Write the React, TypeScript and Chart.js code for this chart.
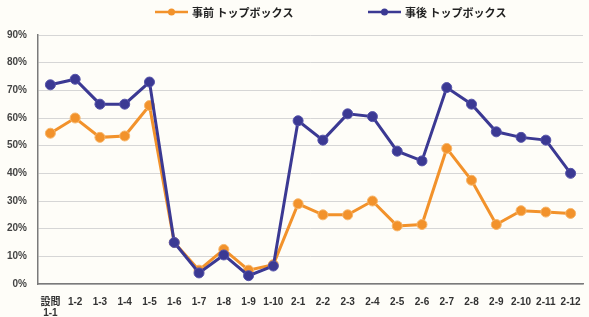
import React, { useEffect, useRef } from "react";
import { Chart, registerables } from "chart.js";

Chart.register(...registerables);

const categories: (string | string[])[] = [
  ["設問", "1-1"], "1-2", "1-3", "1-4", "1-5", "1-6", "1-7", "1-8", "1-9", "1-10",
  "2-1", "2-2", "2-3", "2-4", "2-5", "2-6", "2-7", "2-8", "2-9", "2-10", "2-11", "2-12",
];

const beforeLabel = "事前 トップボックス";
const afterLabel = "事後 トップボックス";

const beforeValues = [
  54.5, 60, 53, 53.5, 64.5, 15, 5, 12.5, 5, 7,
  29, 25, 25, 30, 21, 21.5, 49, 37.5, 21.5, 26.5, 26, 25.5,
];
const afterValues = [
  72, 74, 65, 65, 73, 15, 4, 10.5, 3, 6.5,
  59, 52, 61.5, 60.5, 48, 44.5, 71, 65, 55, 53, 52, 40,
];

const yTicks = [0, 10, 20, 30, 40, 50, 60, 70, 80, 90];

const ORANGE = "#F2922B";
const BLUE = "#3B3993";

const bgPlugin = {
  id: "bg",
  beforeDraw(chart: any) {
    const ctx = chart.ctx;
    ctx.save();
    ctx.fillStyle = "#fefdf8";
    ctx.fillRect(0, 0, chart.width, chart.height);
    ctx.restore();
  },
};

const legendPlugin = {
  id: "customLegend",
  afterDraw(chart: any) {
    const ctx = chart.ctx;
    const items = [
      { x: 155, ds: chart.data.datasets[0] },
      { x: 368, ds: chart.data.datasets[1] },
    ];
    const y = 12;
    ctx.save();
    items.forEach(({ x, ds }) => {
      ctx.strokeStyle = ds.borderColor;
      ctx.lineWidth = 2.5;
      ctx.beginPath();
      ctx.moveTo(x, y);
      ctx.lineTo(x + 33, y);
      ctx.stroke();
      ctx.fillStyle = ds.borderColor;
      ctx.beginPath();
      ctx.arc(x + 16.5, y, 3.5, 0, Math.PI * 2);
      ctx.fill();
      ctx.fillStyle = "#222";
      ctx.font = "bold 11px 'Noto Sans CJK JP'";
      ctx.textBaseline = "middle";
      ctx.textAlign = "left";
      ctx.fillText(ds.label, x + 37, y + 1);
    });
    ctx.restore();
  },
};

export default function App() {
  const ref = useRef<HTMLCanvasElement | null>(null);
  useEffect(() => {
    document.body.style.margin = "0";
    const chart = new Chart(ref.current!, {
      type: "line",
      data: {
        labels: categories,
        datasets: [
          {
            label: beforeLabel,
            data: beforeValues,
            borderColor: ORANGE,
            backgroundColor: ORANGE,
            pointBackgroundColor: ORANGE,
            pointBorderColor: "#F7B66A",
            pointBorderWidth: 1,
            borderWidth: 3,
            pointRadius: 5,
            tension: 0,
            order: 1,
          },
          {
            label: afterLabel,
            data: afterValues,
            borderColor: BLUE,
            backgroundColor: BLUE,
            pointBackgroundColor: BLUE,
            pointBorderColor: "#5553AA",
            pointBorderWidth: 1,
            borderWidth: 3,
            pointRadius: 5,
            tension: 0,
            order: 0,
          },
        ],
      },
      options: {
        animation: false,
        responsive: true,
        maintainAspectRatio: false,
        layout: { padding: { top: 35, left: 0, right: 0, bottom: 0 } },
        plugins: {
          legend: { display: false },
          tooltip: { enabled: false },
        },
        scales: {
          x: {
            offset: true,
            grid: { display: false },
            border: { color: "#7a7a7a", width: 1.5 },
            ticks: {
              autoSkip: false,
              maxRotation: 0,
              minRotation: 0,
              color: "#333",
              padding: 5,
              font: { family: "'Liberation Sans', 'Noto Sans CJK JP'", size: 10, weight: "bold", lineHeight: 1.1 },
            },
            afterFit(scale: any) {
              scale.height = 33;
            },
          },
          y: {
            min: 0,
            max: 90,
            afterBuildTicks(scale: any) {
              scale.ticks = yTicks.map((v) => ({ value: v }));
            },
            grid: { color: "#d6d6d6", lineWidth: 1, drawTicks: false },
            border: { color: "#7a7a7a", width: 1.5 },
            ticks: {
              color: "#444",
              padding: 11,
              font: { family: "'Liberation Sans'", size: 10, weight: "bold" },
              callback: (v: any) => v + "%",
            },
            afterFit(scale: any) {
              scale.width = 38;
            },
          },
        },
      },
      plugins: [bgPlugin, legendPlugin],
    });
    return () => chart.destroy();
  }, []);
  return (
    <div style={{ position: "absolute", left: 0, top: 0, width: 589, height: 317 }}>
      <canvas ref={ref} />
    </div>
  );
}
